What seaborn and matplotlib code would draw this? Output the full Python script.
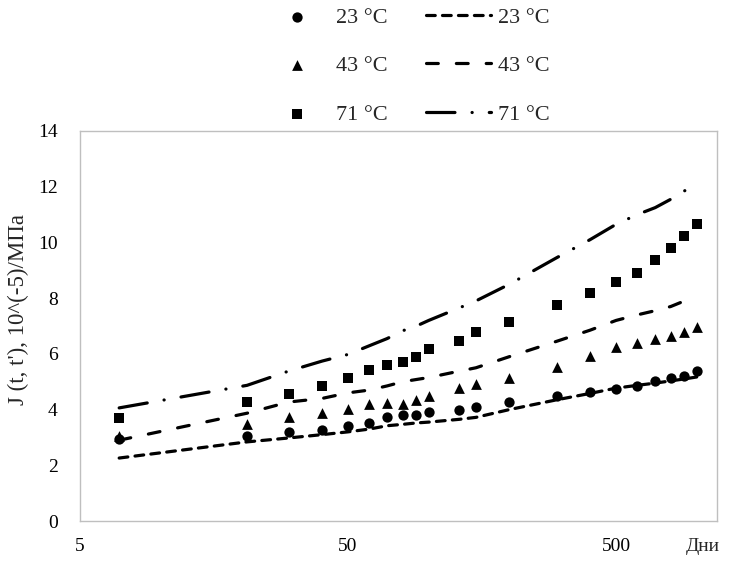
import matplotlib
matplotlib.use("Agg")
import matplotlib.pyplot as plt
import seaborn as sns
import numpy as np

# ---- data ----
days = [7, 21, 30, 40, 50, 60, 70, 80, 90, 100, 130, 150, 200, 300, 400,
        500, 600, 700, 800, 900, 1000]

exp_23 = [2.94, 3.05, 3.20, 3.28, 3.40, 3.53, 3.72, 3.82, 3.82, 3.90, 3.98,
          4.10, 4.27, 4.49, 4.63, 4.74, 4.84, 5.02, 5.13, 5.20, 5.38]
exp_43 = [3.05, 3.50, 3.75, 3.87, 4.02, 4.20, 4.25, 4.20, 4.33, 4.48, 4.77,
          4.91, 5.13, 5.53, 5.92, 6.25, 6.39, 6.53, 6.64, 6.78, 6.96]
exp_71 = [3.70, 4.27, 4.56, 4.85, 5.13, 5.42, 5.60, 5.71, 5.90, 6.17, 6.46,
          6.78, 7.14, 7.75, 8.18, 8.59, 8.90, 9.37, 9.80, 10.23, 10.66]

mod_23 = [2.26, 2.84, 2.98, 3.10, 3.20, 3.30, 3.42, 3.47, 3.52, 3.55, 3.65,
          3.72, 4.00, 4.35, 4.58, 4.77, 4.87, 4.95, 5.03, 5.10, 5.17]
mod_43 = [2.90, 3.87, 4.27, 4.40, 4.60, 4.70, 4.85, 5.00, 5.08, 5.15, 5.38,
          5.50, 5.90, 6.45, 6.85, 7.20, 7.40, 7.55, 7.70, 7.90, 8.10]
mod_71 = [4.06, 4.87, 5.38, 5.74, 5.98, 6.29, 6.55, 6.83, 7.00, 7.20, 7.65,
          7.90, 8.50, 9.45, 10.10, 10.65, 11.00, 11.25, 11.55, 11.85, 12.13]

labels = ["23 °C", "43 °C", "71 °C"]
x_ticks = [5, 50, 500]
x_tick_labels = ["5", "50", "500"]
y_ticks = [0, 2, 4, 6, 8, 10, 12, 14]
y_label = "J (t, t'), 10^(-5)/МПа"
x_unit = "Дни"

# ---- style ----
sns.set_style("white")
plt.rcParams["font.family"] = ["Liberation Serif", "DejaVu Serif"]
plt.rcParams["lines.scale_dashes"] = False

fig = plt.figure(figsize=(7.29, 5.64), dpi=100)
ax = fig.add_axes([80 / 729, 1 - 521 / 564, (717 - 80) / 729, (521 - 131) / 564])

markers = ["o", "^", "s"]
sizes = [55, 60, 55]
scatter_handles = []
for yv, mk, sz, lab in zip([exp_23, exp_43, exp_71], markers, sizes, labels):
    sns.scatterplot(x=days, y=yv, marker=mk, s=sz, color="black",
                    edgecolor="black", linewidth=0, label=lab, ax=ax,
                    zorder=3, legend=False)
    scatter_handles.append(ax.collections[-1])

lw = 2.3
styles = [(0, (6.3, 5.2)), (0, (8.5, 13.0)), (0, (20.5, 12.3, 0.1, 12.3))]
line_handles = []
for yv, ls, lab in zip([mod_23, mod_43, mod_71], styles, labels):
    sns.lineplot(x=days, y=yv, color="black", linewidth=lw, linestyle=ls,
                 estimator=None, errorbar=None, sort=False, label=lab, ax=ax,
                 zorder=4, legend=False)
    ln = ax.lines[-1]
    ln.set_dash_capstyle("round")
    line_handles.append(ln)

ax.set_xscale("log")
ax.set_xlim(5, 1190)
ax.set_ylim(0, 14)
ax.set_xticks(x_ticks)
ax.set_xticklabels(x_tick_labels)
ax.xaxis.set_minor_locator(matplotlib.ticker.NullLocator())
ax.set_yticks(y_ticks)
ax.tick_params(axis="both", length=0, labelsize=14, colors="black")
ax.tick_params(axis="x", pad=12)
ax.tick_params(axis="y", pad=16)
ax.set_ylabel(y_label, fontsize=16.5)
ax.yaxis.set_label_coords((29 - 80) / 637, (521 - 310) / 390)
ax.set_xlabel("")
for sp in ax.spines.values():
    sp.set_visible(True)
    sp.set_color("#BFBFBF")
    sp.set_linewidth(1.0)
ax.grid(False)

ax.annotate(x_unit, xy=(0.978, 0), xycoords="axes fraction",
            xytext=(0, -12), textcoords="offset points",
            ha="center", va="top", fontsize=14)

leg = ax.legend(handles=scatter_handles + line_handles, labels=labels + labels,
                ncol=2, loc="center", bbox_to_anchor=(407 / 729, 1 - 66 / 564),
                bbox_transform=fig.transFigure, frameon=False, fontsize=16,
                handlelength=2.9, handletextpad=0.3, columnspacing=1.75,
                labelspacing=1.25, scatterpoints=1)

fig.savefig("out.png", dpi=100)
